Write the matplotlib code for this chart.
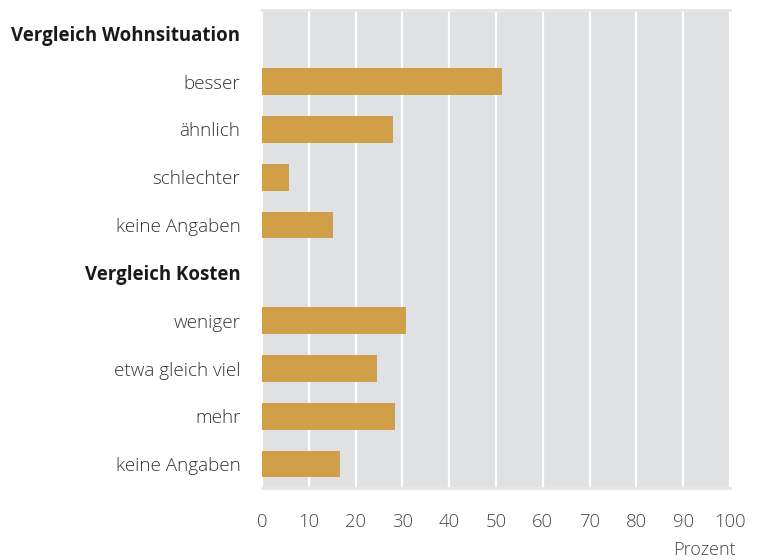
import matplotlib.pyplot as plt
import numpy as np

labels = ["Vergleich Wohnsituation", "besser", "ähnlich", "schlechter", "keine Angaben",
          "Vergleich Kosten", "weniger", "etwa gleich viel", "mehr", "keine Angaben"]
values = [np.nan, 51.2, 28.0, 5.8, 15.2, np.nan, 30.8, 24.6, 28.4, 16.7]
is_header = [True, False, False, False, False, True, False, False, False, False]
xticks = [0, 10, 20, 30, 40, 50, 60, 70, 80, 90, 100]

plt.rcParams['font.family'] = ['Open Sans', 'DejaVu Sans']

fig = plt.figure(figsize=(7.62, 5.6), dpi=100)
ax = fig.add_axes([262/762, 72/560, 468/762, 478/560])
ax.set_facecolor('#e0e1e3')

y = np.arange(len(labels))
ax.barh(y, np.nan_to_num(values), height=0.56, color='#d09f48', zorder=3)

ax.set_xlim(0, 100)
ax.set_ylim(len(labels) - 0.5, -0.5)
ax.set_xticks(xticks)
ax.set_xticklabels([str(t) for t in xticks], fontsize=13.3, color='#444444', fontweight='light')
ax.xaxis.grid(True, color='white', linewidth=1.6, zorder=1)
ax.set_axisbelow(True)

ax.set_yticks(y)
ax.set_yticklabels(labels, fontsize=13.6, color='#333333')
for lab, h in zip(ax.get_yticklabels(), is_header):
    if h:
        lab.set_fontweight('bold')
        lab.set_color('#1a1a1a')
        lab.set_fontsize(13.4)
    else:
        lab.set_fontweight('light')

ax.tick_params(axis='y', length=0, pad=15.5)
ax.tick_params(axis='x', length=0, pad=18)

for s in ['left', 'right']:
    ax.spines[s].set_visible(False)
for s in ['top', 'bottom']:
    ax.spines[s].set_color('#e6e6e6')
    ax.spines[s].set_linewidth(2)

fig.text(736/762, 1 - 550/560, "Prozent", ha='right', va='center', fontsize=13,
         color='#444444', fontweight='light')

fig.savefig('out.png', dpi=100)
